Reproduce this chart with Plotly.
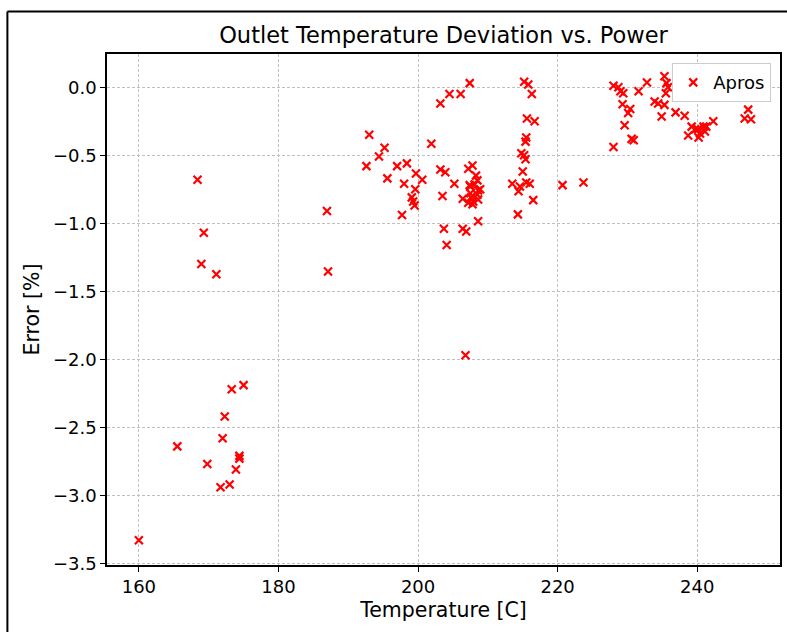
import plotly.graph_objects as go

# Data
temperature = [
    160.0, 165.5, 168.4, 169.3, 168.95, 171.1, 169.8, 171.7, 172.0, 172.3,
    173.0, 173.3, 173.9, 174.4, 174.4, 175.0, 186.95, 187.1,
    192.6, 193.0, 194.4, 195.2, 195.6, 197.0, 197.7, 198.0, 198.4, 199.1,
    199.3, 199.5, 199.6, 199.7, 200.6, 201.9, 203.2, 203.2, 203.9, 203.5,
    203.7, 204.1, 204.5, 205.2, 206.1, 206.4, 206.4, 206.9, 206.8, 207.4,
    207.2, 207.4, 207.8, 207.2, 207.6, 207.9, 207.8, 208.3, 208.5, 208.1,
    208.6, 208.6, 208.5, 208.9, 208.6, 207.5, 207.5,
    213.5, 214.3, 214.4, 214.6, 214.8, 215.0, 215.2, 215.4, 215.4, 215.5,
    215.5, 216.0, 216.5, 215.6, 216.7, 215.2, 215.8, 216.3, 220.7, 223.7,
    228.0, 228.7, 229.0, 229.4, 231.6, 232.8, 235.3, 235.6, 235.8, 235.5,
    229.3, 230.4, 230.1, 233.9, 234.4, 235.3, 234.9, 236.9, 238.2, 229.6,
    230.6, 230.9, 228.0, 239.2, 239.7, 238.7, 240.1, 240.9, 240.4, 240.2,
    241.3, 242.3, 241.1, 247.3, 246.8, 247.7,
]
error = [
    -3.33, -2.64, -0.68, -1.07, -1.30, -1.375, -2.77, -2.94, -2.58, -2.42,
    -2.92, -2.22, -2.81, -2.71, -2.73, -2.19, -0.91, -1.355,
    -0.58, -0.35, -0.51, -0.445, -0.67, -0.58, -0.94, -0.71, -0.56, -0.81,
    -0.84, -0.87, -0.75, -0.635, -0.68, -0.415, -0.12, -0.605, -0.625, -0.80,
    -1.04, -1.16, -0.05, -0.71, -0.05, -1.04, -0.82, -1.06, -1.97, 0.03,
    -0.85, -0.72, -0.575, -0.60, -0.81, -0.84, -0.86, -0.65, -0.685, -0.715,
    -0.76, -0.825, -0.79, -0.75, -0.985, -0.78, -0.73,
    -0.71, -0.935, -0.765, -0.73, -0.485, -0.62, -0.50, -0.53, -0.40, -0.37,
    -0.70, -0.71, -0.83, -0.23, -0.25, 0.04, 0.02, -0.05, -0.72, -0.70,
    0.01, 0.0, -0.03, -0.045, -0.03, 0.035, 0.08, 0.03, 0.0, -0.045,
    -0.125, -0.16, -0.19, -0.105, -0.12, -0.13, -0.215, -0.185, -0.21, -0.28,
    -0.38, -0.39, -0.44, -0.29, -0.31, -0.355, -0.31, -0.29, -0.34, -0.37,
    -0.29, -0.25, -0.325, -0.165, -0.23, -0.235,
]
series_name = "Apros"
x_ticks = [160, 180, 200, 220, 240]
y_ticks = [-3.5, -3.0, -2.5, -2.0, -1.5, -1.0, -0.5, 0.0]
y_tick_labels = ["\u22123.5", "\u22123.0", "\u22122.5", "\u22122.0", "\u22121.5", "\u22121.0", "\u22120.5", "0.0"]

FONT = "DejaVu Sans"

fig = go.Figure()
fig.add_trace(go.Scatter(
    x=temperature, y=error, mode="markers", name=series_name,
    marker=dict(symbol="x-thin", size=8, color="red",
                line=dict(color="red", width=2.2)),
))

axis_common = dict(
    showline=True, linecolor="black", linewidth=1.5, mirror=True,
    ticks="outside", ticklen=5, tickwidth=1.2, tickcolor="black",
    showgrid=True, gridcolor="#c0c0c0", griddash="3px,2px", gridwidth=0.8,
    zeroline=False, tickfont=dict(family=FONT, size=18, color="black"),
)

fig.update_layout(
    width=787, height=632,
    margin=dict(l=107, r=5, t=54, b=67),
    paper_bgcolor="white", plot_bgcolor="white",
    font=dict(family=FONT, color="black"),
    title=dict(text="Outlet Temperature Deviation vs. Power",
               font=dict(family=FONT, size=22.5, color="black"),
               x=0.5, xref="paper", xanchor="center",
               y=1 - 35 / 632, yref="container", yanchor="middle"),
    xaxis=dict(range=[155.43, 251.86], tickvals=x_ticks,
               title=dict(text="Temperature [C]", font=dict(family=FONT, size=20.5), standoff=6),
               **axis_common),
    yaxis=dict(range=[-3.512, 0.244], tickvals=y_ticks, ticktext=y_tick_labels,
               title=dict(text="Error [%]", font=dict(family=FONT, size=20.5), standoff=8),
               **axis_common),
    legend=dict(x=0.987, y=0.982, xanchor="right", yanchor="top",
                bgcolor="white", bordercolor="#cccccc", borderwidth=1,
                font=dict(family=FONT, size=18, color="black"),
                itemwidth=30),
    showlegend=True,
    shapes=[
        dict(type="line", xref="paper", yref="paper",
             x0=-0.148, x1=-0.148, y0=-0.25, y1=1.083,
             line=dict(color="black", width=2)),
        dict(type="line", xref="paper", yref="paper",
             x0=-0.148, x1=1.05, y0=1.083, y1=1.083,
             line=dict(color="black", width=2)),
    ],
)

fig.write_html("out.html")
